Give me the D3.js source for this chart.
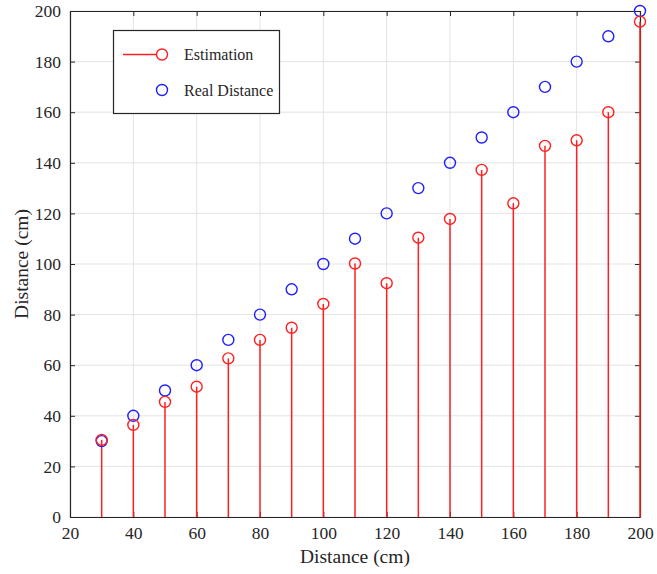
<!DOCTYPE html>
<html>
<head>
<meta charset="utf-8">
<script src="https://cdn.jsdelivr.net/npm/d3@7"></script>
<style>
  html, body { margin: 0; padding: 0; background: #fff; }
  svg { display: block; }
  svg text { font-family: "Liberation Serif", "Times New Roman", serif; }
  .tick text { font-size: 17.5px; }
</style>
</head>
<body>
<svg id="chart" width="657" height="574"></svg>
<script>
// Measured distances (cm)
const distances = [30, 40, 50, 60, 70, 80, 90, 100, 110, 120, 130, 140, 150, 160, 170, 180, 190, 200];
const estimation = [30.5, 36.4, 45.5, 51.5, 62.7, 70, 74.8, 84.2, 100.2, 92.4, 110.4, 117.8, 137.2, 124, 146.7, 148.9, 160, 195.8];
const realDistance = [30, 40, 50, 60, 70, 80, 90, 100, 110, 120, 130, 140, 150, 160, 170, 180, 190, 200];
const xTicks = [20, 40, 60, 80, 100, 120, 140, 160, 180, 200];
const yTicks = [0, 20, 40, 60, 80, 100, 120, 140, 160, 180, 200];

const svg = d3.select("#chart");
const margin = { left: 70, right: 17, top: 11, bottom: 57 };
const W = 657, H = 574;
const x = d3.scaleLinear().domain([20, 200]).range([margin.left, W - margin.right]);
const y = d3.scaleLinear().domain([0, 200]).range([H - margin.bottom, margin.top]);

const axisColor = "#262626";
const red = "#ff1f1f";
const blue = "#1f1fff";

// grid
const grid = svg.append("g");
grid.selectAll("line.gx").data(xTicks).join("line")
  .attr("x1", d => x(d)).attr("x2", d => x(d))
  .attr("y1", y(0)).attr("y2", y(200))
  .attr("stroke", "#e3e3e3").attr("stroke-width", 1);
grid.selectAll("line.gy").data(yTicks).join("line")
  .attr("x1", x(20)).attr("x2", x(200))
  .attr("y1", d => y(d)).attr("y2", d => y(d))
  .attr("stroke", "#e3e3e3").attr("stroke-width", 1);

// axes (ticks pointing inward, box on all sides)
const tickLen = 5;
const bottomAxis = svg.append("g").attr("transform", `translate(0,${y(0)})`)
  .call(d3.axisBottom(x).tickValues(xTicks).tickSizeInner(-tickLen).tickSizeOuter(0).tickPadding(10));
const leftAxis = svg.append("g").attr("transform", `translate(${x(20)},0)`)
  .call(d3.axisLeft(y).tickValues(yTicks).tickSizeInner(-tickLen).tickSizeOuter(0).tickPadding(9));
const topAxis = svg.append("g").attr("transform", `translate(0,${y(200)})`)
  .call(d3.axisTop(x).tickValues(xTicks).tickSizeInner(-tickLen).tickSizeOuter(0).tickFormat(""));
const rightAxis = svg.append("g").attr("transform", `translate(${x(200)},0)`)
  .call(d3.axisRight(y).tickValues(yTicks).tickSizeInner(-tickLen).tickSizeOuter(0).tickFormat(""));

[bottomAxis, leftAxis, topAxis, rightAxis].forEach(g => {
  g.attr("font-family", null).attr("font-size", null);
  g.select(".domain").attr("stroke", axisColor).attr("stroke-width", 1.2);
  g.selectAll(".tick line").attr("stroke", axisColor).attr("stroke-width", 1);
  g.selectAll(".tick text").attr("fill", axisColor);
});

// stems for estimation
const stems = svg.append("g");
stems.selectAll("line").data(distances).join("line")
  .attr("x1", d => x(d)).attr("x2", d => x(d))
  .attr("y1", y(0)).attr("y2", (d, i) => y(estimation[i]))
  .attr("stroke", red).attr("stroke-width", 1.5);

// real distance markers
svg.append("g").selectAll("circle").data(distances).join("circle")
  .attr("cx", d => x(d)).attr("cy", (d, i) => y(realDistance[i]))
  .attr("r", 5.5).attr("fill", "none").attr("stroke", blue).attr("stroke-width", 1.4);

// estimation markers
svg.append("g").selectAll("circle").data(distances).join("circle")
  .attr("cx", d => x(d)).attr("cy", (d, i) => y(estimation[i]))
  .attr("r", 5.5).attr("fill", "none").attr("stroke", red).attr("stroke-width", 1.4);

// axis titles
svg.append("text")
  .attr("x", (x(20) + x(200)) / 2).attr("y", 563)
  .attr("text-anchor", "middle").attr("fill", axisColor)
  .style("font-size", "19.5px").text("Distance (cm)");
svg.append("text")
  .attr("transform", `translate(28,${(y(0) + y(200)) / 2}) rotate(-90)`)
  .attr("text-anchor", "middle").attr("fill", axisColor)
  .style("font-size", "19.5px").text("Distance (cm)");

// legend
const lg = svg.append("g");
lg.append("rect").attr("x", 113.5).attr("y", 30.5).attr("width", 166).attr("height", 83)
  .attr("fill", "#fff").attr("stroke", axisColor).attr("stroke-width", 1.2);
lg.append("line").attr("x1", 123).attr("x2", 162).attr("y1", 54.5).attr("y2", 54.5)
  .attr("stroke", red).attr("stroke-width", 1.5);
lg.append("circle").attr("cx", 162).attr("cy", 54.5).attr("r", 5.5)
  .attr("fill", "#fff").attr("stroke", red).attr("stroke-width", 1.4);
lg.append("circle").attr("cx", 162).attr("cy", 90).attr("r", 5.5)
  .attr("fill", "none").attr("stroke", blue).attr("stroke-width", 1.4);
lg.append("text").attr("x", 184).attr("y", 54.5).attr("dy", "0.35em")
  .attr("fill", axisColor).style("font-size", "16px").text("Estimation");
lg.append("text").attr("x", 184).attr("y", 90).attr("dy", "0.35em")
  .attr("fill", axisColor).style("font-size", "16px").text("Real Distance");
</script>
</body>
</html>
